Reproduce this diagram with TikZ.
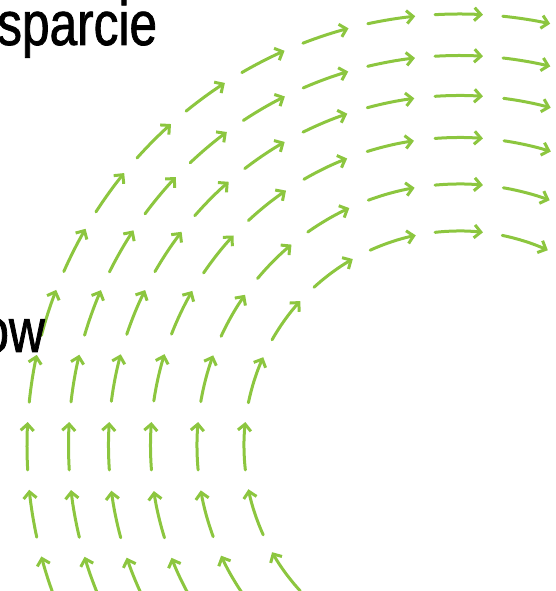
\documentclass[tikz,border=0pt]{standalone}
\usepackage{fontspec}
\newfontfamily\labelfont[FakeStretch=0.8,FakeBold=1.2]{Liberation Sans}
\usetikzlibrary{arrows.meta,calc}
\definecolor{leaf}{RGB}{140,198,63}
\begin{document}
\begin{tikzpicture}[x=1pt,y=1pt,
  vec/.style={draw=leaf, line width=3pt, line cap=round, -{Straight Barb[length=6.5pt,width=13pt]}},
  word/.style={inner sep=0pt, font=\labelfont\fontsize{62}{62}\selectfont, text=black}]
\useasboundingbox (0,0) rectangle (555,591);
\clip (0,0) rectangle (555,591);
\coordinate (C) at (459,145);
\foreach \n/\rad in {5/215,6/262,7/308.5,8/350.5,9/390.5,10/432}{
  \pgfmathsetmacro{\st}{90/\n}
  \pgfmathsetmacro{\dl}{24/\rad*57.2958}
  \pgfmathtruncatemacro{\kmax}{\n+2}
  \foreach \k in {-1,...,\kmax}{
    \pgfmathsetmacro{\th}{90+\k*\st}
    \draw[vec] ($(C)+(\th+\dl:\rad)$) arc[start angle=\th+\dl, end angle=\th-\dl, radius=\rad];
  }
}
\node[word, anchor=base west] (title) at (-3,546) {sparcie};
\node[word, anchor=base east] (side) at (45,239) {ow};
\end{tikzpicture}
\end{document}
